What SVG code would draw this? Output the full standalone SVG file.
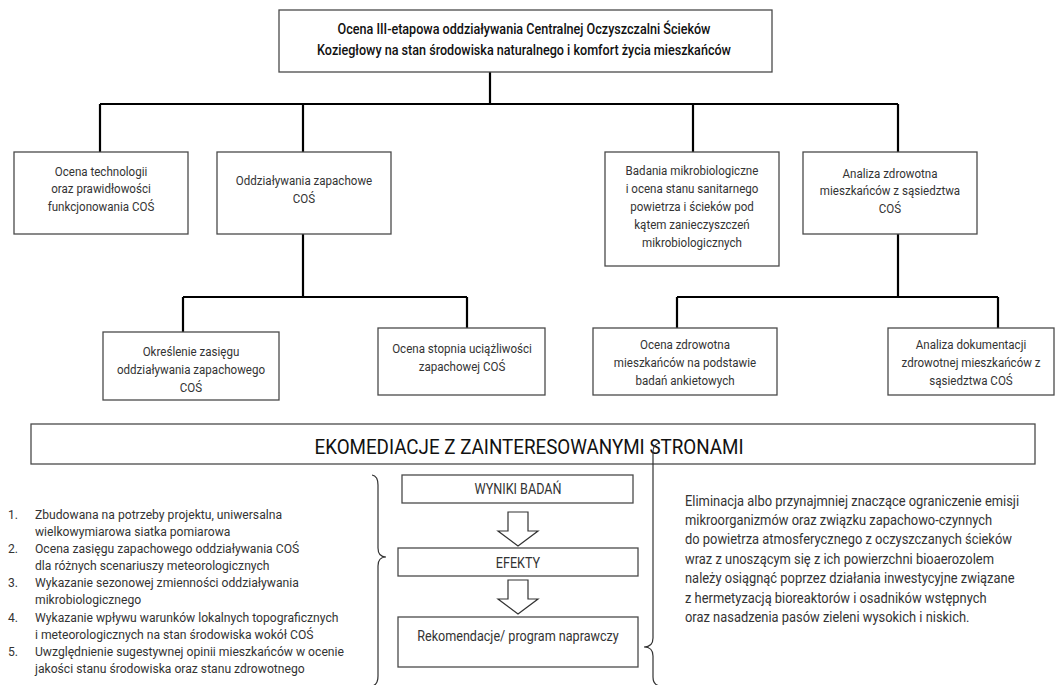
<svg xmlns="http://www.w3.org/2000/svg" width="1058" height="685" viewBox="0 0 1058 685">
<style>
.t{font-family:Roboto,"Liberation Sans",sans-serif;font-size:13px;fill:#333}
.tm{font-family:Roboto,"Liberation Sans",sans-serif;font-size:14px;fill:#333}
.tb{font-family:Roboto,"Liberation Sans",sans-serif;font-size:14px;font-weight:500;fill:#111}
.tl{font-family:Roboto,"Liberation Sans",sans-serif;font-size:13.5px;fill:#333}
.tp{font-family:Roboto,"Liberation Sans",sans-serif;font-size:14.5px;fill:#333}
.th{font-family:Roboto,"Liberation Sans",sans-serif;font-size:20px;fill:#111}
.box{fill:#fff;stroke:#4a4a4a;stroke-width:1.3}
.conn{fill:none;stroke:#000;stroke-width:2.2}
.br{fill:none;stroke:#333;stroke-width:1.2}
.arr{fill:#fff;stroke:#333;stroke-width:1.2}
</style>
<rect width="1058" height="685" fill="#fff"/>
<g id="connectors">
<path class="conn" d="M490,72 V104 M100,104 H898 M100,104 V152 M303,104 V152 M693,104 V152 M898,104 V152"/>
<path class="conn" d="M303,234 V297 M183,297 H467 M183,297 V332 M467,297 V328"/>
<path class="conn" d="M898,234 V297 M677,297 H998 M677,297 V328 M998,297 V328"/>
</g>
<g id="n0">
<rect class="box" x="279" y="10" width="493" height="62"/>
<text class="tb" text-anchor="middle" transform="matrix(0.9 0 0 1 524 34)"><tspan x="0">Ocena III-etapowa oddziaływania Centralnej Oczyszczalni Ścieków</tspan><tspan x="0" dy="21">Koziegłowy na stan środowiska naturalnego i komfort życia mieszkańców</tspan></text>
</g>
<g id="n1">
<rect class="box" x="14" y="152" width="174" height="82"/>
<text class="t" text-anchor="middle" transform="matrix(0.89 0 0 1 101 175.5)"><tspan x="0">Ocena technologii</tspan><tspan x="0" dy="18">oraz prawidłowości</tspan><tspan x="0" dy="18">funkcjonowania COŚ</tspan></text>
</g>
<g id="n2">
<rect class="box" x="217" y="152" width="174" height="82"/>
<text class="t" text-anchor="middle" transform="matrix(0.89 0 0 1 304 184.5)"><tspan x="0">Oddziaływania zapachowe</tspan><tspan x="0" dy="18.5">COŚ</tspan></text>
</g>
<g id="n3">
<rect class="box" x="605" y="152" width="174" height="114"/>
<text class="t" text-anchor="middle" transform="matrix(0.89 0 0 1 692 174.5)"><tspan x="0">Badania mikrobiologiczne</tspan><tspan x="0" dy="18.2">i ocena stanu sanitarnego</tspan><tspan x="0" dy="18.2">powietrza i ścieków pod</tspan><tspan x="0" dy="18.2">kątem zanieczyszczeń</tspan><tspan x="0" dy="18.2">mikrobiologicznych</tspan></text>
</g>
<g id="n4">
<rect class="box" x="803" y="152" width="174" height="82"/>
<text class="t" text-anchor="middle" transform="matrix(0.89 0 0 1 890 177.5)"><tspan x="0">Analiza zdrowotna</tspan><tspan x="0" dy="18">mieszkańców z sąsiedztwa</tspan><tspan x="0" dy="18">COŚ</tspan></text>
</g>
<g id="n5">
<rect class="box" x="103" y="332" width="176" height="68"/>
<text class="t" text-anchor="middle" transform="matrix(0.89 0 0 1 191 355.5)"><tspan x="0">Określenie zasięgu</tspan><tspan x="0" dy="18.5">oddziaływania zapachowego</tspan><tspan x="0" dy="18.5">COŚ</tspan></text>
</g>
<g id="n6">
<rect class="box" x="378" y="328" width="167" height="67"/>
<text class="t" text-anchor="middle" transform="matrix(0.89 0 0 1 462 353)"><tspan x="0">Ocena stopnia uciążliwości</tspan><tspan x="0" dy="18">zapachowej COŚ</tspan></text>
</g>
<g id="n7">
<rect class="box" x="593" y="328" width="184" height="67"/>
<text class="t" text-anchor="middle" transform="matrix(0.89 0 0 1 685 349)"><tspan x="0">Ocena zdrowotna</tspan><tspan x="0" dy="18">mieszkańców na podstawie</tspan><tspan x="0" dy="18">badań ankietowych</tspan></text>
</g>
<g id="n8">
<rect class="box" x="888" y="328" width="166" height="67"/>
<text class="t" text-anchor="middle" transform="matrix(0.89 0 0 1 971 349)"><tspan x="0">Analiza dokumentacji</tspan><tspan x="0" dy="18">zdrowotnej mieszkańców z</tspan><tspan x="0" dy="18">sąsiedztwa COŚ</tspan></text>
</g>
<g id="n9">
<rect class="box" x="31" y="424" width="1004" height="40"/>
<text class="th" text-anchor="middle" transform="matrix(0.94 0 0 1 529 454)">EKOMEDIACJE Z ZAINTERESOWANYMI STRONAMI</text>
</g>
<g id="list">
<text class="tl" transform="matrix(0.9 0 0 1 8 518.5)"><tspan x="0">1.</tspan><tspan x="0" dy="34.4">2.</tspan><tspan x="0" dy="34.4">3.</tspan><tspan x="0" dy="34.4">4.</tspan><tspan x="0" dy="34.4">5.</tspan></text>
<text class="tl" transform="matrix(0.9 0 0 1 35 518.5)"><tspan x="0">Zbudowana na potrzeby projektu, uniwersalna</tspan><tspan x="0" dy="17.2">wielkowymiarowa siatka pomiarowa</tspan><tspan x="0" dy="17.2">Ocena zasięgu zapachowego oddziaływania COŚ</tspan><tspan x="0" dy="17.2">dla różnych scenariuszy meteorologicznych</tspan><tspan x="0" dy="17.2">Wykazanie sezonowej zmienności oddziaływania</tspan><tspan x="0" dy="17.2">mikrobiologicznego</tspan><tspan x="0" dy="17.2">Wykazanie wpływu warunków lokalnych topograficznych</tspan><tspan x="0" dy="17.2">i meteorologicznych na stan środowiska wokół COŚ</tspan><tspan x="0" dy="17.2">Uwzględnienie sugestywnej opinii mieszkańców w ocenie</tspan><tspan x="0" dy="17.2">jakości stanu środowiska oraz stanu zdrowotnego</tspan></text>
</g>
<g id="braces">
<path class="br" d="M372,475 Q378,476 378,485 L378,548 Q378,557 386,557 Q378,557 378,566 L378,676 Q378,685 372,686"/>
<path class="br" d="M660,443 Q653,444 653,452 L653,638 Q653,647 644,647 Q653,647 653,656 L653,677 Q653,685 660,686"/>
</g>
<g id="n10">
<rect class="box" x="402" y="475" width="231" height="28"/>
<text class="tm" text-anchor="middle" transform="matrix(0.9 0 0 1 518 494)">WYNIKI BADAŃ</text>
</g>
<polygon class="arr" points="508,512 528,512 528,531 538,531 518,546 498,531 508,531"/>
<g id="n11">
<rect class="box" x="398" y="548" width="240" height="28"/>
<text class="tm" text-anchor="middle" transform="matrix(0.9 0 0 1 518 567.5)">EFEKTY</text>
</g>
<polygon class="arr" points="508,580 528,580 528,599 538,599 518,614 498,599 508,599"/>
<g id="n12">
<rect class="box" x="398" y="617" width="240" height="50"/>
<text class="tm" text-anchor="middle" transform="matrix(0.9 0 0 1 518 641)">Rekomendacje/ program naprawczy</text>
</g>
<g id="para">
<text class="tp" transform="matrix(0.89 0 0 1 685 505.5)"><tspan x="0">Eliminacja albo przynajmniej znaczące ograniczenie emisji</tspan><tspan x="0" dy="19.5">mikroorganizmów oraz związku zapachowo-czynnych</tspan><tspan x="0" dy="19.5">do powietrza atmosferycznego z oczyszczanych ścieków</tspan><tspan x="0" dy="19.5">wraz z unoszącym się z ich powierzchni bioaerozolem</tspan><tspan x="0" dy="19.5">należy osiągnąć poprzez działania inwestycyjne związane</tspan><tspan x="0" dy="19.5">z hermetyzacją bioreaktorów i osadników wstępnych</tspan><tspan x="0" dy="19.5">oraz nasadzenia pasów zieleni wysokich i niskich.</tspan></text>
</g>
</svg>
